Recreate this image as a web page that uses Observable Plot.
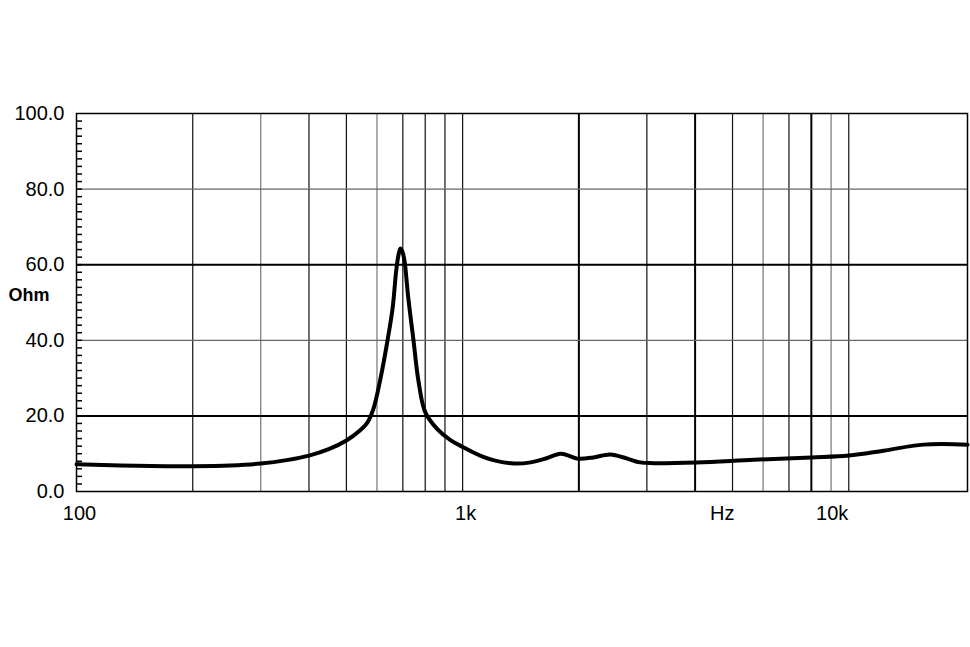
<!DOCTYPE html>
<html>
<head>
<meta charset="utf-8">
<script src="https://cdn.jsdelivr.net/npm/d3@7"></script>
<script src="https://cdn.jsdelivr.net/npm/@observablehq/plot@0.6"></script>
<style>
  body { margin: 0; background: #fff; }
</style>
</head>
<body>
<div id="plot"></div>
<script>
// impedance curve (Hz, Ohm)
const freqs = [100, 130, 170, 200, 250, 300, 350, 400, 450, 500, 540, 567, 588, 613, 639, 659, 673, 682, 690, 698, 707, 723, 746, 768, 800, 860, 930, 1000, 1110, 1200, 1360, 1500, 1650, 1790, 1880, 1980, 2180, 2410, 2670, 2880, 3120, 4050, 5680, 8000, 10000, 12300, 15600, 20300];
const ohms = [7.2, 6.9, 6.7, 6.7, 6.9, 7.4, 8.3, 9.5, 11.2, 13.5, 16, 18.3, 22, 30, 40, 48.7, 58.5, 62.5, 64.3, 63.5, 61, 51.3, 40, 29.4, 21, 16.5, 13.6, 11.8, 9.5, 8.3, 7.4, 7.7, 8.8, 10, 9.5, 8.7, 9.0, 9.8, 8.7, 7.7, 7.5, 7.7, 8.4, 9.0, 9.5, 10.8, 12.4, 12.4];

// grid
const gridFreqs = [200, 400, 500, 700, 800, 900, 1000, 3000, 5000, 7000, 10000];
const lightGridFreqs = [300, 600, 6000, 9000];
const heavyGridFreqs = [2000, 4000, 8000];
const heavyGridOhms = [20, 60];
const lightGridOhms = [40, 80];
const yTicks = [0, 20, 40, 60, 80, 100];
const yMinorTicks = d3.range(2, 100, 2);

// x labels as printed on the chart
const xLabelFreqs = [100, 1000, 8900];
const xLabels = ["100", "1k", "10k"];
const unitFreq = 4700;
const unitLabel = "Hz";
const yUnitAt = 51.8;
const yUnitLabel = "Ohm";

const data = freqs.map((f, i) => ({f, z: ohms[i]}));

const plot = Plot.plot({
  width: 970,
  height: 647,
  marginLeft: 76,
  marginRight: 3,
  marginTop: 113,
  marginBottom: 156,
  style: {
    background: "#fff",
    color: "#000",
    fontFamily: "'Liberation Sans', Arial, sans-serif",
    fontSize: "20px"
  },
  x: {type: "log", domain: [100, 20300], axis: null},
  y: {domain: [0, 100], axis: null},
  marks: [
    Plot.ruleX(lightGridFreqs, {stroke: "#777", strokeWidth: 1.2}),
    Plot.ruleX(gridFreqs, {stroke: "#111", strokeWidth: 1.2}),
    Plot.ruleX(heavyGridFreqs, {stroke: "#000", strokeWidth: 2}),
    Plot.ruleY(lightGridOhms, {stroke: "#666", strokeWidth: 1.2}),
    Plot.ruleY(heavyGridOhms, {stroke: "#000", strokeWidth: 2}),
    Plot.frame({stroke: "#000", strokeWidth: 1.5}),
    Plot.axisY(yMinorTicks, {tickSize: -6, tickFormat: () => "", strokeWidth: 1.5, label: null}),
    Plot.axisY(yTicks, {tickSize: 0, tickPadding: 12, tickFormat: d => d.toFixed(1), fontSize: 20, label: null}),
    Plot.text(xLabels, {x: (d, i) => xLabelFreqs[i], frameAnchor: "bottom", dy: 28, dx: 3, fontSize: 20}),
    Plot.text([unitLabel], {x: unitFreq, frameAnchor: "bottom", dy: 28, fontSize: 20}),
    Plot.text([yUnitLabel], {y: yUnitAt, frameAnchor: "left", dx: -68, textAnchor: "start", fontSize: 18, fontWeight: "bold"}),
    Plot.line(data, {x: "f", y: "z", stroke: "#000", strokeWidth: 4, curve: "catmull-rom"})
  ]
});

document.getElementById("plot").appendChild(plot);
</script>
</body>
</html>
